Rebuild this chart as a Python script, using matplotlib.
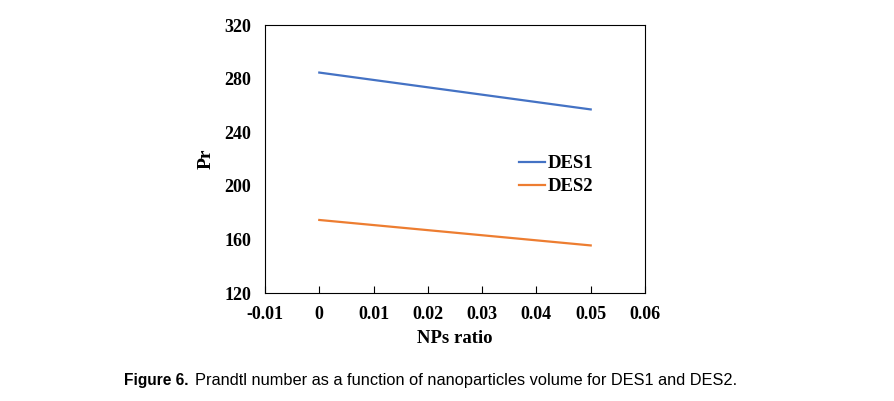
import matplotlib
matplotlib.use("Agg")
import matplotlib.pyplot as plt

x = [0, 0.01, 0.02, 0.03, 0.04, 0.05]
des1 = [284.5, 279.0, 273.5, 268.0, 262.5, 257.0]
des2 = [174.5, 170.7, 166.9, 163.1, 159.3, 155.5]
xticks = [-0.01, 0, 0.01, 0.02, 0.03, 0.04, 0.05, 0.06]
xticklabels = ["-0.01", "0", "0.01", "0.02", "0.03", "0.04", "0.05", "0.06"]
yticks = [120, 160, 200, 240, 280, 320]

serif = "Liberation Serif"
fig = plt.figure(figsize=(8.95, 4.01), dpi=100)
ax = fig.add_axes([265/895, 1-293/401, 380/895, 268/401])
ax.plot(x, des1, color="#4472C4", lw=1.6, label="DES1")
ax.plot(x, des2, color="#ED7D31", lw=1.6, label="DES2")
ax.set_xlim(-0.01, 0.06)
ax.set_ylim(120, 320)
ax.set_xticks(xticks)
ax.set_xticklabels(xticklabels)
ax.set_yticks(yticks)
ax.tick_params(axis="x", direction="in", length=5, width=0.8, pad=9.5)
ax.tick_params(axis="y", length=0, pad=10)
for lab in ax.get_xticklabels() + ax.get_yticklabels():
    lab.set_fontfamily(serif)
    lab.set_fontweight("bold")
    lab.set_fontsize(13)
for s in ax.spines.values():
    s.set_linewidth(0.8)
    s.set_color("black")
ax.set_xlabel("NPs ratio", fontfamily=serif, fontweight="bold", fontsize=13.5, labelpad=5)
ax.set_ylabel("Pr", fontfamily=serif, fontweight="bold", fontsize=14, labelpad=7)
leg = ax.legend(loc="upper left", bbox_to_anchor=(0.668, 0.514), frameon=False,
                prop={"family": serif, "weight": "bold", "size": 13.5},
                handlelength=1.4, handletextpad=0.15, labelspacing=0.3,
                borderpad=0, borderaxespad=0)

fig.text(124/895, 1-381/401, "Figure 6.", fontfamily="Liberation Sans", fontweight="bold",
         fontsize=11.2, va="center", ha="left")
fig.text(195/895, 1-381/401, "Prandtl number as a function of nanoparticles volume for DES1 and DES2.",
         fontfamily="Liberation Sans", fontsize=11.8, va="center", ha="left")
fig.savefig("out.png", dpi=100)
